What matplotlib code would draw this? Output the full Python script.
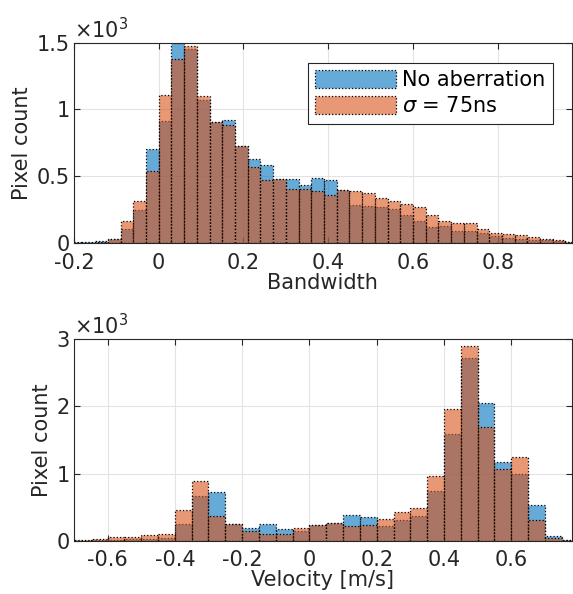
import numpy as np
import matplotlib.pyplot as plt
from matplotlib.ticker import FuncFormatter

# bandwidth histogram (bin width 0.03)
bw_edges = np.round(np.arange(-0.21, 0.995, 0.03), 2)
bw_no_ab = [5, 5, 15, 30, 105, 245, 705, 917, 1500, 1455,
            1070, 910, 925, 728, 632, 587, 482, 478, 437, 490,
            472, 393, 287, 275, 268, 252, 212, 165, 122, 125,
            90, 90, 75, 50, 40, 32, 25, 20, 12, 6]
bw_sigma = [2, 3, 10, 33, 167, 315, 542, 1110, 1382, 1475,
            1102, 905, 885, 730, 568, 475, 480, 406, 402, 390,
            358, 395, 387, 375, 340, 315, 290, 272, 210, 167,
            150, 152, 105, 72, 65, 56, 44, 30, 21, 10]

# velocity histogram (bin width 0.05)
vel_edges = np.round(np.arange(-0.7, 0.805, 0.05), 2)
vel_no_ab = [3, 5, 15, 25, 30, 45, 243, 668, 725, 255,
             184, 243, 180, 144, 233, 268, 378, 358, 224, 308,
             368, 740, 1588, 2728, 2058, 1178, 989, 532, 75, 5]
vel_sigma = [5, 20, 48, 58, 82, 105, 465, 893, 365, 248,
             139, 104, 106, 194, 233, 268, 224, 233, 318, 427,
             492, 969, 1955, 2902, 1690, 1069, 1243, 308, 35, 8]

labels = ['No aberration', r'$\sigma$ = 75ns']
c_blue = (0.0, 0.447, 0.741, 0.6)
c_orange = (0.85, 0.325, 0.098, 0.6)
dark = '#262626'
fs = 15

plt.rcParams['font.family'] = 'DejaVu Sans'
plt.rcParams['mathtext.fontset'] = 'dejavusans'

fig = plt.figure(figsize=(5.73, 5.94), dpi=100)
ax1 = fig.add_axes([0.129, 0.591, 0.869, 0.337])
ax2 = fig.add_axes([0.129, 0.0897, 0.869, 0.339])


def draw(ax, edges, a, b, xlim, xticks, yticks, xlabel):
    w = np.diff(edges)
    ax.bar(edges[:-1], a, width=w, align='edge', facecolor=c_blue,
           edgecolor='k', linestyle=':', linewidth=0.9, label=labels[0])
    ax.bar(edges[:-1], b, width=w, align='edge', facecolor=c_orange,
           edgecolor='k', linestyle=':', linewidth=0.9, label=labels[1])
    ax.set_xlim(*xlim)
    ax.set_ylim(yticks[0], yticks[-1])
    ax.set_xticks(xticks)
    ax.set_yticks(yticks)
    ax.xaxis.set_major_formatter(FuncFormatter(lambda v, p: '%g' % round(v, 2)))
    ax.yaxis.set_major_formatter(FuncFormatter(lambda v, p: '%g' % (v / 1000)))
    ax.set_axisbelow(True)
    ax.grid(True, color='#e3e3e3', linewidth=0.8)
    for s in ax.spines.values():
        s.set_color(dark)
        s.set_linewidth(0.8)
    ax.tick_params(direction='in', top=True, right=True, length=4,
                   color=dark, labelcolor=dark, labelsize=fs)
    ax.tick_params(axis='x', pad=7)
    ax.tick_params(axis='y', pad=3)
    ax.set_xlabel(xlabel, fontsize=fs, color=dark, labelpad=0)
    ax.set_ylabel('Pixel count', fontsize=fs, color=dark, labelpad=3)
    ax.text(0.0, 1.005, r'$\times$10$^3$', transform=ax.transAxes,
            fontsize=fs, color=dark, va='bottom', ha='left')


draw(ax1, bw_edges, bw_no_ab, bw_sigma, (-0.2, 0.975),
     [-0.2, 0, 0.2, 0.4, 0.6, 0.8], [0, 500, 1000, 1500], 'Bandwidth')
draw(ax2, vel_edges, vel_no_ab, vel_sigma, (-0.7, 0.78),
     [-0.6, -0.4, -0.2, 0, 0.2, 0.4, 0.6], [0, 1000, 2000, 3000],
     'Velocity [m/s]')

leg = ax1.legend(loc='upper right', bbox_to_anchor=(0.962, 0.9),
                 borderaxespad=0, fontsize=fs, fancybox=False,
                 framealpha=1, edgecolor=dark, handlelength=3.9,
                 handleheight=0.9, handletextpad=0.3, borderpad=0.35,
                 labelspacing=0.3)
leg.get_frame().set_linewidth(0.8)

fig.savefig('out.png', dpi=100)
